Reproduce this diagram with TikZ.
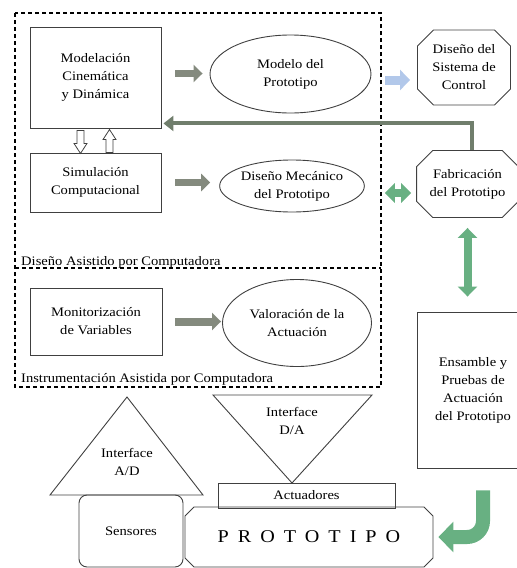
\documentclass[tikz,border=0pt]{standalone}
\usepackage{fontspec}
\setmainfont{Liberation Serif}[FakeStretch=1.12]
\usetikzlibrary{arrows.meta,shapes.geometric,shapes.misc}
\definecolor{grisfl}{RGB}{132,138,126}
\definecolor{verdefl}{RGB}{104,176,130}
\definecolor{azulfl}{RGB}{178,200,234}
\definecolor{retro}{RGB}{112,126,108}
\begin{document}
\begin{tikzpicture}[x=1pt,y=-1pt,font=\fontsize{13}{18}\selectfont,
    caja/.style={draw=black!75,line width=.9pt,align=center,inner sep=0pt},
    elipse/.style={caja,ellipse},
    octo/.style={caja,chamfered rectangle,chamfered rectangle xsep=13pt},
    flecha/.style={grisfl,line width=7pt,-{Triangle[length=9pt,width=17pt]}},
    verde/.style={verdefl,line width=8pt,{Triangle[length=10pt,width=19pt]}-{Triangle[length=10pt,width=19pt]}},
    hueca/.style={draw=black!75,line width=.8pt,fill=white}]
  \useasboundingbox (0,0) rectangle (517,568);
  \draw[line width=1.3pt,dash pattern=on 4pt off 3pt] (15,13) rectangle (381,387) (15,268) -- (381,268);
  \node[anchor=base west,inner sep=0pt] (cad) at (21,265) {Diseño Asistido por Computadora};
  \node[anchor=base west,inner sep=0pt] (iac) at (21,382) {Instrumentación Asistida por Computadora};

  \node[caja,minimum width=131,minimum height=101] (modc) at (95.5,77.5) {Modelación\\Cinemática\\y Dinámica};
  \node[caja,minimum width=131,minimum height=59] (sim) at (95.5,182.5) {Simulación\\Computacional};
  \node[caja,minimum width=132,minimum height=67] (mon) at (96,321.5) {Monitorización\\de Variables};
  \node[elipse,minimum width=161,minimum height=78] (modelo) at (290.5,74) {Modelo del\\Prototipo};
  \node[elipse,minimum width=140,minimum height=52] (dm) at (292,186) {Diseño Mecánico\\del Prototipo};
  \node[elipse,minimum width=149,minimum height=87] (val) at (297,323) {Valoración de la\\Actuación};
  \node[octo,minimum width=93,minimum height=75] (dsc) at (464,67.5) {Diseño del\\Sistema de\\Control};
  \node[octo,minimum width=89,minimum height=67] (fab) at (467.5,184) {Fabricación\\del Prototipo};
  \node[caja,minimum width=112,minimum height=156] (ens) at (473,390) {Ensamble y\\Pruebas de\\Actuación\\del Prototipo};

  \draw[caja] (127,397) -- (203,495) -- (50,495) -- cycle;
  \node[align=center] (ad) at (127,462) {Interface\\A/D};
  \draw[caja] (213,395) -- (372,395) -- (292,483) -- cycle;
  \node[align=center] (da) at (292,421) {Interface\\D/A};
  \node[caja,minimum width=177,minimum height=25] (act) at (306.5,495.5) {Actuadores};
  \node[caja,rounded corners=8pt,minimum width=104,minimum height=72] (sens) at (131,531) {Sensores};
  \node[octo,chamfered rectangle xsep=15pt,minimum width=248,minimum height=60,
    font=\fontsize{18}{20}\selectfont\addfontfeatures{LetterSpace=50}] (proto) at (309,537) {PROTOTIPO};

  \draw[flecha,shorten <=14pt,shorten >=7pt] ([yshift=4pt]modc.east) -- ([yshift=4pt]modc.east -| modelo.west);
  \draw[flecha,shorten <=14pt,shorten >=9pt] (sim.east) -- (sim.east -| dm.west);
  \draw[flecha,shorten <=13pt,shorten >=1pt,line width=8pt] (mon.east) -- (mon.east -| val.west);
  \draw[azulfl,line width=9pt,-{Triangle[length=10pt,width=20pt]},shorten <=14pt,shorten >=7pt]
    ([yshift=-6pt]modelo.east) -- ([yshift=-6pt]modelo.east -| dsc.west);
  \draw[verde,shorten <=20pt,shorten >=5pt] ([yshift=-7pt]dm.east) -- ([yshift=-7pt]dm.east -| fab.west);
  \draw[verde,shorten <=10pt,shorten >=15pt] (fab.south) -- (fab.south |- ens.north);
  \draw[retro,line width=4pt,-{Triangle[length=10pt,width=15pt]},shorten >=2pt] ([xshift=4pt]fab.north) |- ([yshift=5pt]modc.south east);
  \draw[hueca] ([xshift=-15pt,yshift=-2pt]modc.south) ++(-3.5,0) -- ++(0,13) -- ++(-3,0) -- ++(6.5,10)
    -- ++(6.5,-10) -- ++(-3,0) -- ++(0,-13) -- cycle;
  \draw[hueca] ([xshift=14pt]sim.north) ++(-3.5,0) -- ++(0,-13) -- ++(-3,0) -- ++(6.5,-10)
    -- ++(6.5,10) -- ++(-3,0) -- ++(0,13) -- cycle;
  \coordinate (jota) at ([xshift=10pt,yshift=-22pt]ens.south);
  \draw[verdefl,line width=14pt,rounded corners=16pt,-{Triangle[length=15pt,width=30pt]},shorten >=5pt] (jota) |- (proto.east);
\end{tikzpicture}
\end{document}
